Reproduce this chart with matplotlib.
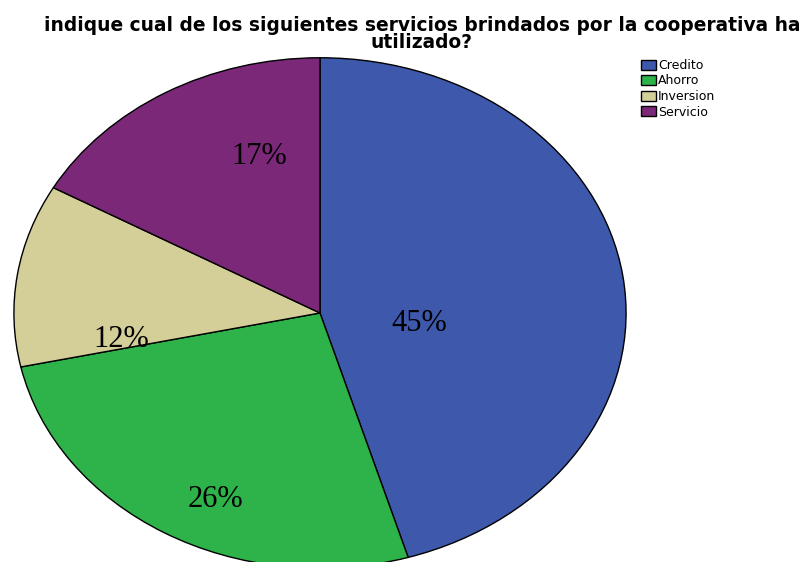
import matplotlib
matplotlib.use('Agg')
import matplotlib.pyplot as plt

categories = ['Credito', 'Ahorro', 'Inversion', 'Servicio']
values = [45.35, 26.26, 11.56, 16.83]
colors = ['#3E58AC', '#2DB34A', '#D4CE99', '#7A2877']
pct_labels = ['45%', '26%', '12%', '17%']
# label positions (pie data coords, SPSS style placement)
label_pos = [(0.325, -0.04), (-0.34, -0.73), (-0.65, -0.105), (-0.20, 0.615)]

fig = plt.figure(figsize=(8.01, 5.62), dpi=100)
ax = fig.add_axes([13/801, (562-569)/562, 614/801, 512/562])

wedges, _ = ax.pie(values, colors=colors, startangle=90, counterclock=False,
                   wedgeprops=dict(edgecolor='black', linewidth=1.0))
ax.set_aspect('auto')
ax.set_xlim(-1.003, 1.003)
ax.set_ylim(-1.003, 1.003)
ax.axis('off')

for (x, y), t in zip(label_pos, pct_labels):
    ax.text(x, y, t, ha='center', va='center', fontsize=22,
            family='Liberation Serif')

fig.text(422/801, 1 - 34/562, 'indique cual de los siguientes servicios brindados por la cooperativa ha\nutilizado?',
         ha='center', va='center', fontsize=13.4, fontweight='bold',
         family='DejaVu Sans', linespacing=0.92)

leg = fig.legend(wedges, categories, loc='upper left',
                 bbox_to_anchor=(641/801, 1 - 59/562), frameon=False,
                 prop={'family': 'DejaVu Sans', 'size': 9},
                 handlelength=1.2, handleheight=0.88, handletextpad=0.15,
                 labelspacing=0.2, borderpad=0, borderaxespad=0)

fig.savefig('out.png', dpi=100)
